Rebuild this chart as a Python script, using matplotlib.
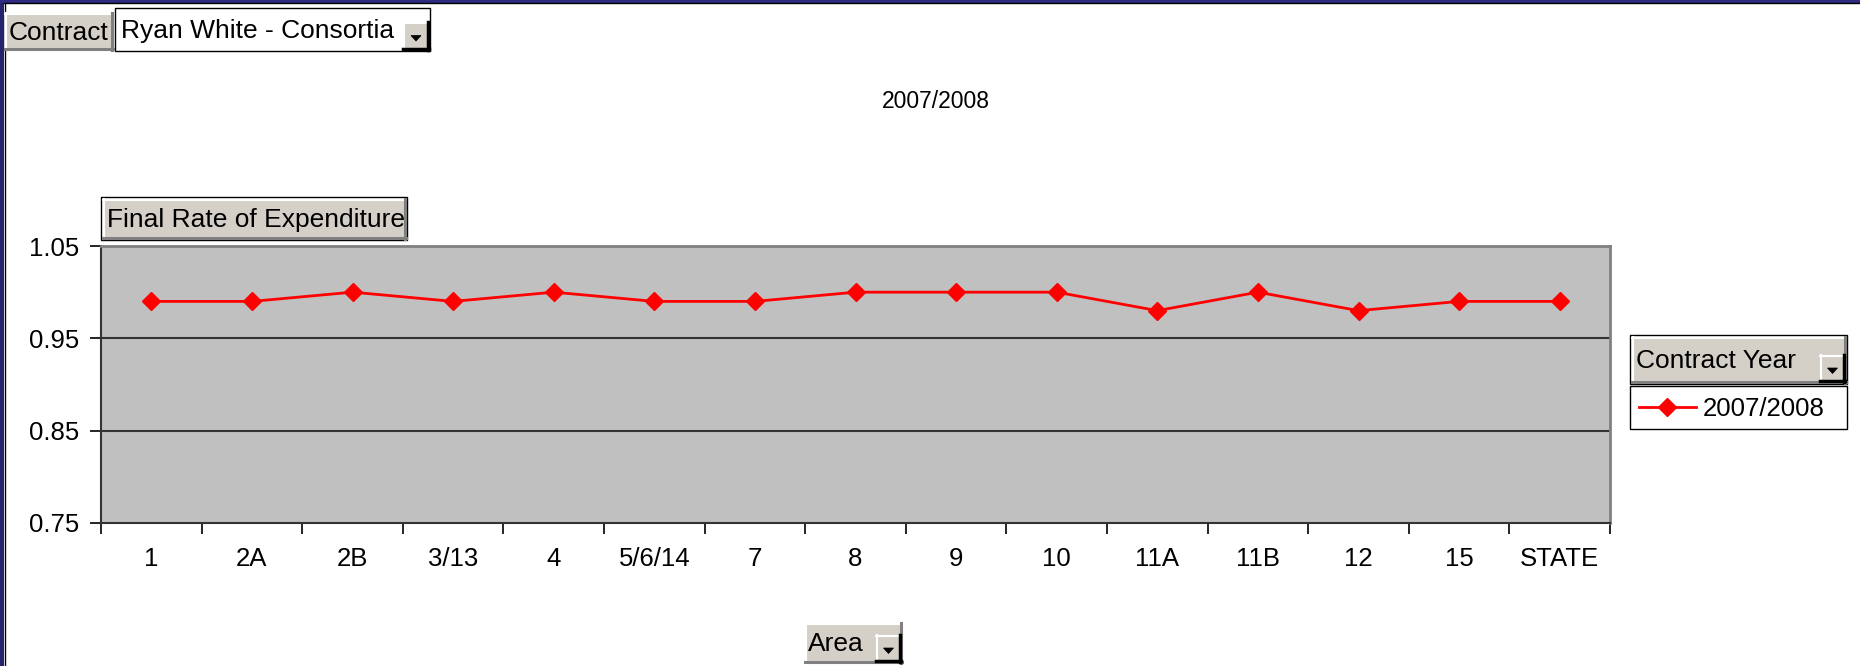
import matplotlib
matplotlib.use("Agg")
import matplotlib.pyplot as plt
from matplotlib.patches import Rectangle, Polygon
from matplotlib.ticker import FixedLocator

plt.rcParams['font.family'] = ['Liberation Sans', 'DejaVu Sans']

# ---- data ----
areas = ["1", "2A", "2B", "3/13", "4", "5/6/14", "7", "8", "9", "10",
         "11A", "11B", "12", "15", "STATE"]
rates = [0.99, 0.99, 1.00, 0.99, 1.00, 0.99, 0.99, 1.00, 1.00, 1.00,
         0.98, 1.00, 0.98, 0.99, 0.99]
series_name = "2007/2008"
title = "2007/2008"
y_ticks = [0.75, 0.85, 0.95, 1.05]
y_tick_labels = ["0.75", "0.85", "0.95", "1.05"]

W, H = 1860, 666
fig = plt.figure(figsize=(W / 100, H / 100), dpi=100)
fig.patch.set_facecolor("white")

# overlay axes in pixel coordinates for the pivot-table decorations
ov = fig.add_axes([0, 0, 1, 1], zorder=0)
ov.set_xlim(0, W)
ov.set_ylim(H, 0)
ov.axis("off")
ov.patch.set_alpha(0)

FACE = "#d4d0c8"
BFS = 19


def button(x0, y0, x1, y1, text=None, fs=BFS, dropdown=False, tx=None):
    ov.add_patch(Rectangle((x0, y0), x1 - x0, y1 - y0, facecolor=FACE,
                           edgecolor="none", zorder=2))
    ov.plot([x0, x1], [y0 + 0.5, y0 + 0.5], color="white", lw=1.5, zorder=3)
    ov.plot([x0 + 0.5, x0 + 0.5], [y0, y1], color="white", lw=1.5, zorder=3)
    ov.plot([x0, x1], [y1 - 1.5, y1 - 1.5], color="#808080", lw=2.2, zorder=3)
    ov.plot([x1 - 1.5, x1 - 1.5], [y0, y1], color="#808080", lw=2.2, zorder=3)
    if text is not None:
        ov.text(tx if tx is not None else x0 + 3, (y0 + y1) / 2 + 1, text,
                fontsize=fs, ha="left", va="center", color="black", zorder=4)
    if dropdown:
        dd_button(x1 - 26, y1 - 28, x1 - 1, y1 - 1)


def dd_button(x0, y0, x1, y1):
    ov.add_patch(Rectangle((x0, y0), x1 - x0, y1 - y0, facecolor=FACE,
                           edgecolor="none", zorder=5))
    ov.plot([x0, x1], [y0 + 0.5, y0 + 0.5], color="white", lw=1.5, zorder=6)
    ov.plot([x0 + 0.5, x0 + 0.5], [y0, y1], color="white", lw=1.5, zorder=6)
    ov.plot([x0, x1], [y1 - 1, y1 - 1], color="black", lw=2.5, zorder=6)
    ov.plot([x1 - 1, x1 - 1], [y0, y1], color="black", lw=2.5, zorder=6)
    cx = (x0 + x1) / 2
    cy = (y0 + y1) / 2 + 2
    ov.add_patch(Polygon([[cx - 5, cy - 2.5], [cx + 5, cy - 2.5], [cx, cy + 3]],
                         closed=True, facecolor="black", edgecolor="black",
                         lw=0.5, zorder=7))


# blue slide frame (left and top)
ov.add_patch(Rectangle((0, 0), 4, H, facecolor="#26236e", edgecolor="none", zorder=1))
ov.plot([4.5, 4.5], [3, H], color="black", lw=1, zorder=1)
ov.add_patch(Rectangle((0, 0), W, 2.5, facecolor="#2e2b80", edgecolor="none", zorder=1))
ov.plot([4, W], [3, 3], color="black", lw=1, zorder=1)

# Contract page field
button(5, 13, 113, 50, "Contract", tx=9)
ov.add_patch(Rectangle((115, 8), 315, 43, facecolor="white",
                       edgecolor="black", lw=1, zorder=2))
ov.text(121, 31, "Ryan White - Consortia", fontsize=BFS, ha="left",
        va="center", zorder=4)
dd_button(403, 22, 429, 50)

# title
fig.text(936 / W, 1 - 102 / H, title, fontsize=16.5, ha="center", va="center")

# data field button
ov.add_patch(Rectangle((101, 197), 306, 43, facecolor="white",
                       edgecolor="black", lw=1, zorder=1))
button(103, 199, 406, 239, "Final Rate of Expenditure", tx=107)

# series field + legend
ov.add_patch(Rectangle((1630, 335), 217, 49, facecolor="white",
                       edgecolor="black", lw=1, zorder=1))
button(1632, 337, 1846, 383, "Contract Year", tx=1636, dropdown=True)
ov.add_patch(Rectangle((1630, 386), 217, 43, facecolor="white",
                       edgecolor="black", lw=1, zorder=1))

# category field button
button(805, 623, 902, 663, "Area", tx=808, dropdown=True)

# ---- main chart ----
L, R, T, B = 101, 1610, 246, 523
ax = fig.add_axes([L / W, 1 - B / H, (R - L) / W, (B - T) / H], zorder=2)
ax.set_facecolor("#c0c0c0")
x = list(range(len(areas)))
line, = ax.plot(x, rates, color="#ff0000", lw=2, marker="D", markersize=9,
                markeredgecolor="#ff0000", markerfacecolor="#ff0000",
                label=series_name, zorder=3)
ax.set_xlim(-0.5, len(areas) - 0.5)
ax.set_ylim(0.75, 1.05)
ax.set_yticks(y_ticks)
ax.set_yticklabels(y_tick_labels)
ax.set_xticks(x)
ax.set_xticklabels(areas)
ax.xaxis.set_minor_locator(FixedLocator([i - 0.5 for i in range(len(areas) + 1)]))
ax.tick_params(axis="x", which="major", length=0, pad=17, labelsize=18.5)
ax.tick_params(axis="x", which="minor", length=8, width=1.2, direction="out",
               color="black")
ax.tick_params(axis="y", which="major", length=8, width=1.2, direction="out",
               pad=7.5, labelsize=18.5, color="black")
for yv in y_ticks[1:-1]:
    ax.axhline(yv, color="#333333", lw=1.5, zorder=1)
ax.spines["left"].set_color("#333333")
ax.spines["bottom"].set_color("#333333")
ax.spines["left"].set_linewidth(1.5)
ax.spines["bottom"].set_linewidth(1.5)
ax.spines["top"].set_color("#808080")
ax.spines["right"].set_color("#808080")
ax.spines["top"].set_linewidth(2)
ax.spines["right"].set_linewidth(2)

leg = fig.legend(handles=[line], labels=[series_name],
                 loc="center left", bbox_to_anchor=(1639 / W, 1 - 409 / H),
                 frameon=False, fontsize=18.5, handlelength=2.2,
                 handletextpad=0.28, borderpad=0, borderaxespad=0)

fig.savefig("out.png", dpi=100, facecolor="white")
